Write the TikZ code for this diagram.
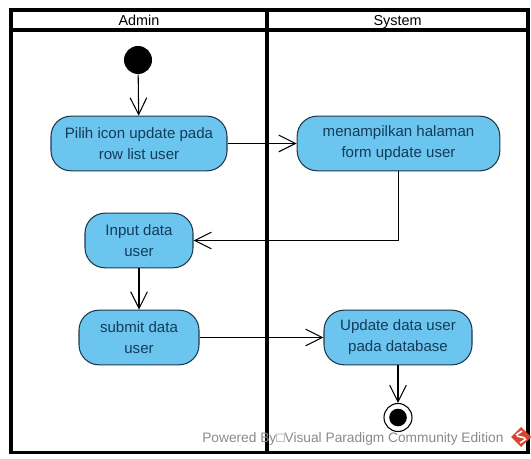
\documentclass[tikz,border=0pt]{standalone}
\usepackage{fontspec}
\setmainfont{Liberation Sans}
\usetikzlibrary{arrows.meta}
\definecolor{actfill}{HTML}{6CC5EE}
\definecolor{actline}{HTML}{1F3A4D}
\definecolor{acttext}{HTML}{123C5A}
\definecolor{markgrey}{HTML}{8A8A8A}
\definecolor{markred}{HTML}{D8452E}

\begin{document}
\begin{tikzpicture}[x=0.75pt, y=-0.75pt, node distance=2cm, thick, >={Straight Barb[length=12.5pt,width=12.5pt]},
    lane/.style = {draw, line width=2.3pt, inner sep=0pt, minimum width=#1*0.75pt},
    head/.style = {lane=#1, minimum height=15pt, text height=10pt, text depth=1.5pt, font=\fontsize{10.8}{12}\selectfont},
    body/.style = {lane=#1, minimum height=317pt},
    action/.style = {draw=actline, fill=actfill, text=acttext, rounded corners=15pt, thick, minimum height=41pt,
        align=center, font=\fontsize{11.3}{15.6}\selectfont, inner sep=0pt},
    start/.style = {circle, fill=black, minimum size=21pt, inner sep=0pt},
    stop/.style = {circle, draw, thick, minimum size=21pt, inner sep=0pt, path picture={\fill (path picture bounding box.center) circle (6.6pt);}},
    flow/.style = {->, draw, line width=0.8pt}]
    \useasboundingbox (0,0) rectangle (531,459);
    % swimlanes
    \node[head=256] (admin) at (139,20) {Admin};
    \node[head=261] (system) at (397.5,20) {System};
    \node[body=256] (adminbody) at (139,241.5) {};
    \node[body=261] (systembody) at (397.5,241.5) {};
    % activities
    \node[start] (begin) at (138,60) {};
    \node[action, minimum width=132pt] (pilih) at (139,143.5) {Pilih icon update pada\\row list user};
    \node[action, minimum width=152pt] (tampil) at (398.5,143.5) {menampilkan halaman\\form update user};
    \node[action, minimum width=81pt] (input) at (139,240.5) {Input data\\user};
    \node[action, minimum width=90pt] (submit) at (139,337.5) {submit data\\user};
    \node[action, minimum width=111pt] (update) at (398,337.5) {Update data user\\pada database};
    \node[stop] (end) at (398,417.5) {};
    \path[flow]
    (begin) edge (pilih)
    (pilih) edge (tampil)
    (input) edge (submit)
    (submit) edge (update)
    (update) edge (end);
    \draw[flow] (tampil.south) |- (input.east);
    % watermark
    \node[text=markgrey, font=\fontsize{10.3}{12}\selectfont, anchor=east, inner sep=0pt] (mark) at (504,439) {Powered By□Visual Paradigm Community Edition};
    \fill[markred] (521,427) -- (531,437) -- (521,447) -- (511,437) -- cycle;
    \draw[white, line width=1.2pt] (516,435) -- (522,431) (526,439) -- (520,443) (517,436) -- (525,438);
\end{tikzpicture}
\end{document}
